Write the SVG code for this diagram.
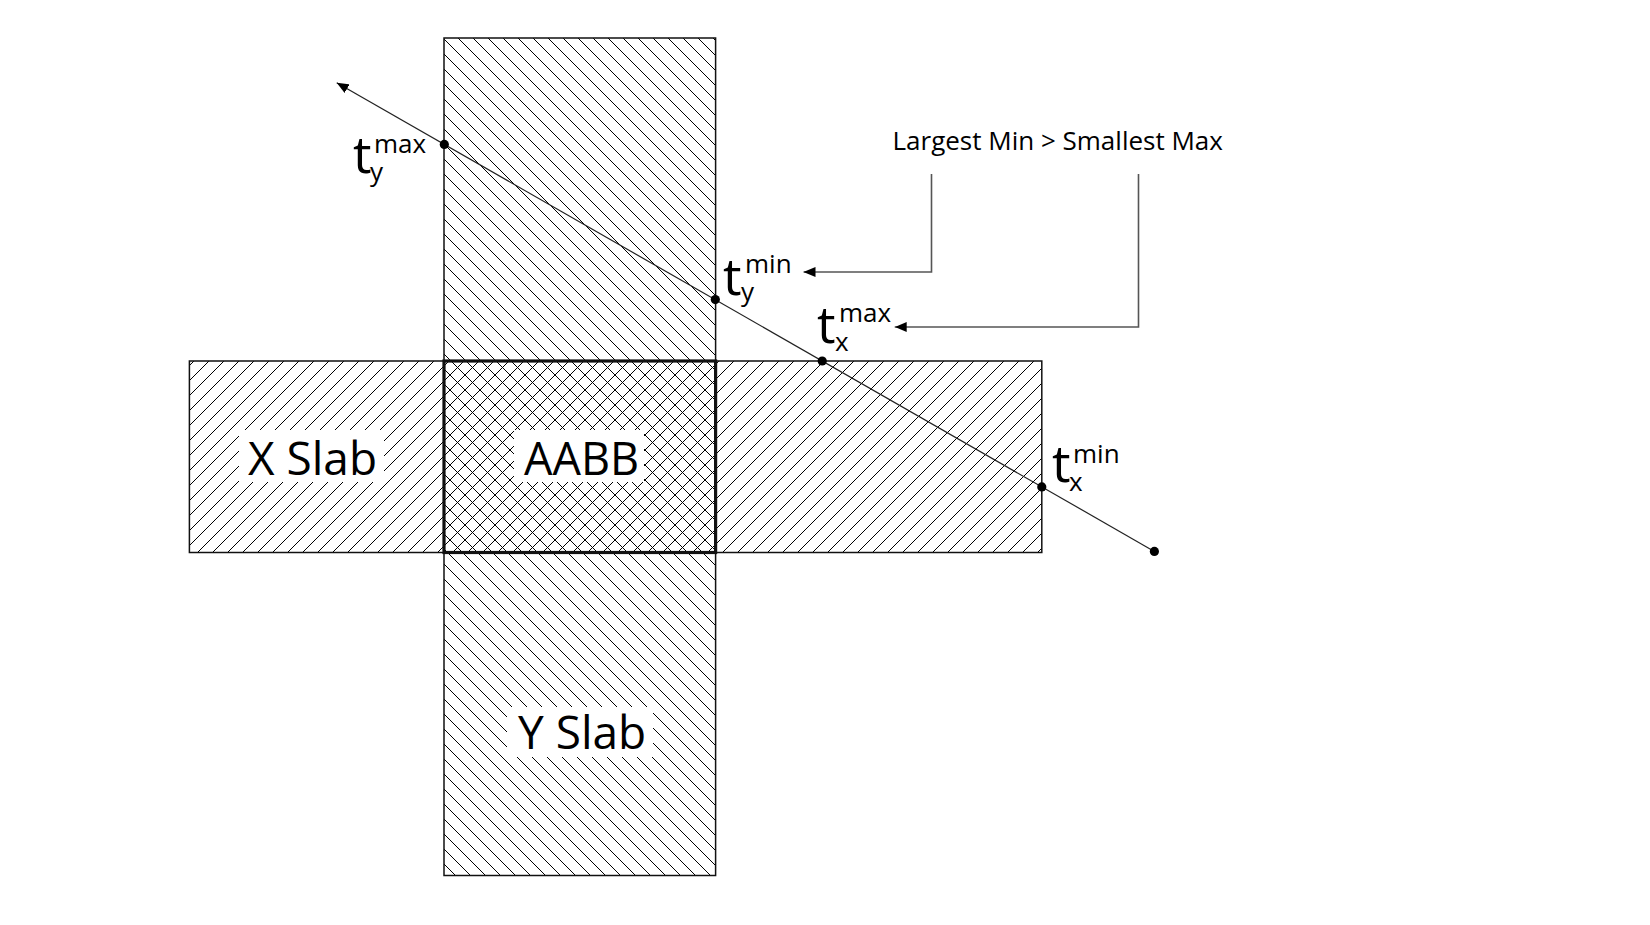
<svg xmlns="http://www.w3.org/2000/svg" width="1650" height="925" viewBox="0 0 1650 925">
  <style>
    text { font-family: "Open Sans", "Noto Sans", "Liberation Sans", sans-serif; fill: #000; }
    .big { font-size: 46px; }
    .t { font-size: 52px; }
    .s { font-size: 26px; }
    .note { font-size: 26px; }
    .slab { stroke: #111; stroke-width: 1.5; }
    .bg { fill: #fff; }
    .ray { stroke: #222; stroke-width: 1.2; fill: none; }
    .conn { stroke: #555; stroke-width: 1.6; fill: none; }
    .dot { fill: #000; }
  </style>
  <defs>
    <pattern id="hatchBack" patternUnits="userSpaceOnUse" width="15" height="15">
      <path d="M0,0 L15,15 M-3,12 L3,18 M12,-3 L18,3" stroke="#000" stroke-width="1"/>
    </pattern>
    <pattern id="hatchFwd" patternUnits="userSpaceOnUse" width="15" height="15">
      <path d="M0,15 L15,0 M-3,3 L3,-3 M12,18 L18,12" stroke="#000" stroke-width="1"/>
    </pattern>
    <marker id="arrow" markerWidth="12" markerHeight="10" refX="12" refY="5" orient="auto" markerUnits="userSpaceOnUse">
      <path d="M0,0 L12,5 L0,10 Z" fill="#000"/>
    </marker>
  </defs>

  <rect width="1650" height="925" fill="#fff"/>

  <!-- backgrounds -->
  <rect class="bg" x="444" y="38" width="271.6" height="837.5"/>
  <rect class="bg" x="189.4" y="361" width="852.4" height="191.5"/>

  <g id="y-slab">
    <rect x="444" y="38" width="271.6" height="837.5" fill="url(#hatchBack)" class="slab"/>
  </g>
  <g id="x-slab">
    <rect x="189.4" y="361" width="852.4" height="191.5" fill="url(#hatchFwd)" class="slab"/>
  </g>
  <g id="aabb">
    <rect x="444" y="361" width="271.6" height="191.5" fill="none" stroke="#111" stroke-width="3.2"/>
  </g>

  <!-- labels -->
  <g id="x-slab-label">
    <rect class="bg" x="239" y="430" width="145" height="52"/>
    <text class="big" x="248" y="475">X Slab</text>
  </g>
  <g id="aabb-label">
    <rect class="bg" x="514" y="430" width="130" height="52"/>
    <text class="big" x="524" y="475" style="font-size:45px">AABB</text>
  </g>
  <g id="y-slab-label">
    <rect class="bg" x="507" y="707" width="146" height="50"/>
    <text class="big" x="518" y="749">Y Slab</text>
  </g>

  <!-- ray -->
  <g id="ray">
    <line class="ray" x1="1154.4" y1="551.4" x2="336.7" y2="82.7" marker-end="url(#arrow)"/>
    <circle class="dot" cx="1154.4" cy="551.4" r="4.6"/>
  </g>

  <g id="ty-max">
    <circle class="dot" cx="444.3" cy="144.4" r="4.6"/>
    <text><tspan class="t" x="353" y="173">t</tspan><tspan class="s" x="374" y="153">max</tspan><tspan class="s" x="370" y="181">y</tspan></text>
  </g>
  <g id="ty-min">
    <circle class="dot" cx="715.3" cy="299.6" r="4.6"/>
    <text><tspan class="t" x="723" y="295">t</tspan><tspan class="s" x="745" y="273">min</tspan><tspan class="s" x="741" y="301">y</tspan></text>
  </g>
  <g id="tx-max">
    <circle class="dot" cx="822.2" cy="361" r="4.6"/>
    <text><tspan class="t" x="817" y="343">t</tspan><tspan class="s" x="839" y="322">max</tspan><tspan class="s" x="835" y="351">x</tspan></text>
  </g>
  <g id="tx-min">
    <circle class="dot" cx="1041.8" cy="486.9" r="4.6"/>
    <text><tspan class="t" x="1052" y="482">t</tspan><tspan class="s" x="1073" y="463">min</tspan><tspan class="s" x="1069" y="491">x</tspan></text>
  </g>

  <g id="note">
    <text class="note" x="892.5" y="150">Largest Min &gt; Smallest Max</text>
  </g>

  <g id="connectors">
    <polyline class="conn" points="931.5,174 931.5,272 803.5,272" marker-end="url(#arrow)"/>
    <polyline class="conn" points="1138.5,174 1138.5,327 894.7,327" marker-end="url(#arrow)"/>
  </g>
</svg>
